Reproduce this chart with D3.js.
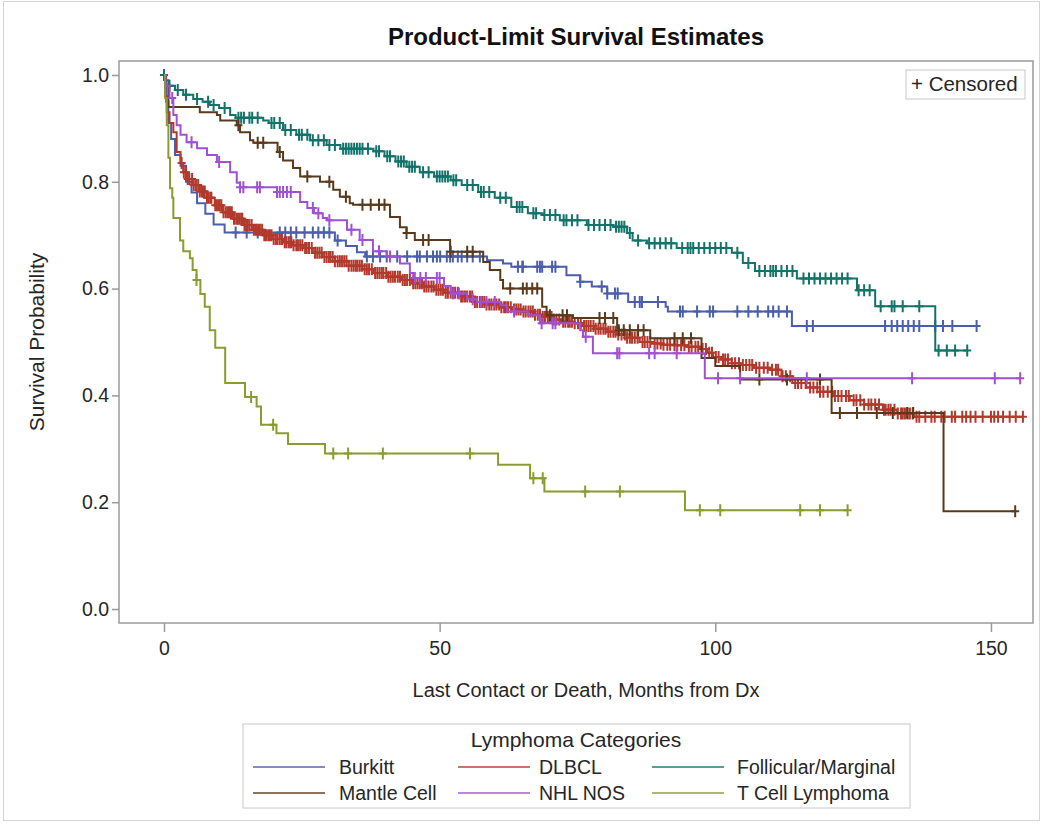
<!DOCTYPE html>
<html>
<head>
<meta charset="utf-8">
<script src="https://cdn.jsdelivr.net/npm/d3@7"></script>
<style>
  body { margin: 0; background: #fff; font-family: "Liberation Sans", Arial, sans-serif; }
  svg text { font-family: "Liberation Sans", Arial, sans-serif; }
</style>
</head>
<body>
<svg id="chart" width="1043" height="824"></svg>
<script>
// Kaplan-Meier steps: [months, survival]
const burkittSteps = [[0,1],[0.4,0.95],[0.8,0.91],[1.3,0.88],[2,0.85],[3,0.83],[4,0.8],[5,0.78],[6,0.76],[7.5,0.74],[9,0.72],[11,0.705],[31,0.69],[33,0.68],[35,0.668],[36.5,0.66],[58.6,0.653],[61.5,0.647],[63,0.641],[73,0.625],[75.5,0.613],[77.6,0.604],[80.4,0.591],[84.2,0.575],[91,0.566],[91.4,0.557],[113.9,0.53]];
const burkittEnd = 147.4;
const burkittCens = [13,15,17,21,22,23,24,25.5,27,28,29,30,31.5,36.8,37.9,39.2,40.4,42.3,44.1,45.9,46.4,47.7,48.8,49.5,50.1,51.3,51.9,52.4,53.3,54,55,56,57.3,64.2,65,65.1,67.7,68.2,68.6,70.4,71,75.5,79.4,80.4,81.8,82.3,85.4,86.3,86.7,89.6,93.6,94.1,96.7,99,99.6,104,106,107.7,109.6,110.5,111.5,113,116.6,117.7,130.8,132,133,134,135,136,137,139.9,141.3,143,147.4];

const dlbclSteps = [[0,1],[0.2,0.96],[0.5,0.93],[1,0.91],[1.7,0.893],[2.3,0.856],[3,0.835],[3.5,0.818],[4.3,0.805],[5.3,0.794],[6.5,0.782],[7.8,0.77],[9.2,0.756],[10.7,0.743],[12.5,0.731],[14.4,0.719],[16,0.71],[18,0.7],[19.8,0.693],[21.6,0.687],[23.4,0.681],[25.2,0.676],[27,0.667],[28.8,0.659],[31,0.651],[33.5,0.643],[36,0.636],[38,0.629],[40.5,0.622],[43,0.616],[45,0.61],[47,0.604],[49,0.598],[51,0.592],[53.5,0.585],[56,0.575],[58.5,0.57],[61,0.565],[63,0.561],[65,0.557],[67,0.551],[68.5,0.547],[70.5,0.542],[72,0.538],[74.2,0.535],[76,0.53],[78,0.525],[80.4,0.519],[82,0.514],[84,0.508],[86.3,0.5],[88.5,0.497],[90.5,0.495],[92.3,0.494],[95,0.491],[97.2,0.487],[98.5,0.48],[99.6,0.472],[101,0.467],[103,0.46],[104.5,0.457],[107,0.452],[110,0.448],[112,0.436],[114,0.423],[116.5,0.415],[119,0.407],[121.5,0.399],[124.4,0.391],[127,0.383],[130.4,0.373],[133,0.366],[136,0.36]];
const dlbclEnd = 155.8;
const dlbclCens = [3.2,4,4.6,5.1,5.8,6.2,6.9,7.4,8.1,8.6,9.3,9.9,10.4,11.2,11.8,12.3,13.1,13.7,14.2,14.9,15.5,16.3,16.8,17.4,18.2,18.9,19.5,20.3,21,21.9,22.6,23.1,24,24.7,25.6,26.3,27.4,28.2,29.1,29.9,30.6,31.5,32.3,33.1,34,34.8,35.5,36.4,37.2,38.3,39.1,39.8,40.7,41.5,42.4,43.3,44.1,45.2,46,46.8,47.6,48.5,49.4,50.2,51.1,52,52.8,53.9,54.6,55.5,56.4,57.3,58.1,59,59.9,60.8,61.7,62.4,63.5,64.3,65.2,66.1,66.9,67.8,68.7,69.6,70.3,71.2,72.4,73.3,74,75.1,76.2,77,77.9,78.8,79.7,80.6,81.5,82.4,83.6,84.5,85.4,86.8,87.7,89,90.1,91.3,92.6,93.8,95.2,96.4,97.7,98.9,100.1,101.4,102.3,103.6,105,106.2,107.4,108.8,110.3,111.4,112.8,114.5,115.6,117.2,118.5,119.6,121.2,122.3,123.7,125.1,126.3,127.8,129,130.6,131.4,132.5,133.7,134.4,135.3,136.5,138.1,139.2,141.6,142.9,144.8,145.5,147.2,150,151.3,153.4,155.8];
const dlbclCensMore = [3.6,4.3,5.4,6.5,7.1,7.8,8.4,9.6,10.1,10.8,11.5,12,12.7,13.4,14,14.6,15.2,15.9,16.6,17.1,17.8,18.5,19.2,19.9,20.6,21.4,22.2,22.9,23.5,24.3,25.1,25.9,26.8,27.8,28.6,29.5,30.2,31,31.9,32.7,33.5,34.4,35.1,35.9,36.8,37.7,38.7,39.5,40.3,41.1,41.9,42.8,43.7,44.6,45.6,46.4,47.2,48,48.9,49.8,50.6,51.5,52.4,53.3,54.2,55,55.9,56.8,57.7,58.5,59.4,60.3,61.2,62,62.9,63.9,64.7,65.6,66.5,67.3,68.2,69.1,69.9,70.7,71.7,72.8,73.6,74.5,75.6,76.6,77.4,78.3,79.2,80.1,81,81.9,83,84,84.9,85.9,87.2,88.2,89.5,90.6,91.8,93.1,94.4,95.7,96.9,98.3,99.4,100.6,101.8,103,104.3,105.6,106.7,108,109.5,111,112.2,113.6,115,116.4,117.8,119,120.4,121.7,122.9,124.2,125.6,127,128.3,129.7,130.9,131.8,133.1,134,134.9,135.8,137,139.8,141,143.5,146.3,148.5,150.6,152.2,154.5];

const follSteps = [[0,1],[0.3,0.99],[0.8,0.98],[2,0.972],[3.5,0.963],[5.3,0.955],[7,0.95],[8.3,0.944],[10,0.938],[12,0.925],[13,0.92],[18,0.915],[19,0.91],[21.6,0.897],[24,0.888],[26.5,0.878],[29.5,0.869],[32,0.862],[38,0.857],[40,0.848],[42,0.838],[44,0.828],[46.4,0.818],[49,0.81],[52,0.803],[54,0.794],[57,0.781],[60,0.77],[63,0.753],[66,0.741],[68.7,0.738],[71.8,0.728],[76.7,0.719],[81.5,0.716],[84,0.704],[85,0.69],[87.6,0.685],[93,0.676],[103,0.667],[105,0.648],[107.2,0.633],[114.8,0.619],[125.7,0.597],[129,0.567],[139.9,0.484]];
const follEnd = 145.7;
const follCens = [0,1,2.5,4,6,8,9,11,13.5,14,14.5,15.5,16,17,19.5,20,21,22,23,24.5,25,26,27,28,29,30,31,32.5,33,33.5,34,34.5,35,35.5,36,37,38.5,39,40.5,41,42.5,43,43.5,44.5,45,45.5,47,48,49.5,50,50.5,51,51.5,52.5,53,55,56,57.5,58,59,61,62,64,64.5,65,67,67.5,69,70,71,72.5,73,74,75,77,78,79,80,81,82,82.5,83,83.5,84.5,86,88,89,90,91,92,94,95,95.5,96,97,98,99,100,101,102,104,106,108,109,110,110.5,111,112,113,114,116,117,118,119,120,121,122,123,124,126,127,128,130,132,132.5,134,137,140.5,142,143.5,145.7];

const mantleSteps = [[0,1],[0.3,0.98],[0.8,0.94],[6.5,0.93],[9.6,0.925],[10.2,0.915],[13.2,0.906],[13.8,0.893],[15.6,0.878],[16.2,0.873],[20.6,0.856],[21.6,0.84],[23.4,0.826],[24.7,0.81],[28.3,0.8],[30.7,0.785],[31.9,0.772],[33.7,0.76],[34.3,0.757],[41,0.734],[42.8,0.715],[44,0.704],[45.5,0.691],[51.9,0.669],[57.9,0.65],[59.1,0.635],[61,0.616],[61.5,0.6],[68.6,0.566],[69.4,0.55],[74.2,0.545],[82.2,0.526],[82.5,0.522],[88.2,0.507],[97.5,0.47],[100,0.455],[104.5,0.43],[121.1,0.367],[141.4,0.183]];
const mantleEnd = 154.4;
const mantleCens = [13.5,17,18,21,26,30,33,36,37.5,39,40,44,47,48,52,55,56,62.8,65.1,65.8,66.8,67.7,70,72.3,73.1,79,80,81.5,82.5,83.4,84.5,86,87,92.6,94.1,95.6,108,113,119,122.6,125.7,129.3,132.2,134.8,135.9,154.4];

const nhlSteps = [[0,1],[0.3,0.98],[1,0.957],[1.7,0.925],[2.3,0.906],[3,0.888],[4.1,0.874],[6,0.863],[7.8,0.85],[9.6,0.837],[12,0.818],[13.2,0.798],[13.8,0.79],[20.5,0.781],[24.7,0.762],[26,0.751],[27.2,0.741],[28.8,0.732],[29.6,0.728],[33.2,0.71],[35.5,0.691],[37.9,0.67],[40.4,0.66],[42.8,0.647],[44.6,0.629],[45.2,0.62],[50.8,0.605],[52,0.591],[55,0.58],[56.8,0.575],[61,0.569],[62.2,0.557],[66,0.55],[68.2,0.535],[75.5,0.522],[76,0.51],[77.8,0.479],[98.1,0.432]];
const nhlEnd = 155.3;
const nhlCens = [1.5,5,10,13.8,14.4,16.9,17.4,20.5,21,21.6,22.3,23,27,28,30,34,36,39,41,45.5,46.5,47.5,49.5,50,52.5,53.5,56,57.5,58.5,60,63.5,68.5,70.5,71,76.5,82.2,82.6,88,89,93,100.5,104.5,116.6,135.7,150.7,155.3];

const tcellSteps = [[0,1],[0.2,0.957],[0.5,0.906],[0.8,0.845],[1.1,0.788],[1.5,0.77],[1.7,0.732],[2.9,0.69],[3.5,0.67],[4.7,0.657],[5.2,0.635],[5.9,0.616],[6.6,0.59],[7.4,0.566],[8.3,0.522],[9.3,0.489],[11.1,0.423],[14.7,0.397],[16.8,0.379],[17.6,0.345],[20.4,0.329],[22.5,0.309],[29.2,0.291],[60.6,0.27],[66.4,0.245],[69,0.22],[94.5,0.185]];
const tcellEnd = 124;
const tcellCens = [5.9,15.8,19.8,30.7,33.4,39.7,55.5,67,68.7,76.4,82.7,97.2,100.9,115.4,119,124];

const groupNames = ["Burkitt", "DLBCL", "Follicular/Marginal", "Mantle Cell", "NHL NOS", "T Cell Lymphoma"];
const groupColors = ["#4a5eab", "#b3392d", "#12736a", "#5a3a1c", "#a150d6", "#8a9c2e"];
const xTicks = [0, 50, 100, 150];
const yTicks = [0, 0.2, 0.4, 0.6, 0.8, 1.0];

const groups = [
  { steps: burkittSteps, end: burkittEnd, cens: burkittCens },
  { steps: dlbclSteps, end: dlbclEnd, cens: dlbclCens.concat(dlbclCensMore) },
  { steps: follSteps, end: follEnd, cens: follCens },
  { steps: mantleSteps, end: mantleEnd, cens: mantleCens },
  { steps: nhlSteps, end: nhlEnd, cens: nhlCens },
  { steps: tcellSteps, end: tcellEnd, cens: tcellCens }
];

const W = 1043, H = 824;
const plot = { left: 119, right: 1033, top: 61, bottom: 623 };
const textColor = "#262626";

const svg = d3.select("#chart");

// light outer frame of the graph
svg.append("rect")
  .attr("x", 3.5).attr("y", 1.5).attr("width", W - 7).attr("height", H - 5)
  .attr("fill", "none").attr("stroke", "#d4d4d4");

const x = d3.scaleLinear().domain([-8.16, 157.63]).range([plot.left, plot.right]);
const y = d3.scaleLinear().domain([-0.0262, 1.0262]).range([plot.bottom, plot.top]);

// title
svg.append("text")
  .attr("x", (plot.left + plot.right) / 2).attr("y", 45)
  .attr("text-anchor", "middle")
  .attr("font-size", 24).attr("font-weight", "bold").attr("fill", "#111")
  .text("Product-Limit Survival Estimates");

// axes
const axisColor = "#9a9a9a";
const xAxis = svg.append("g")
  .attr("transform", `translate(0,${plot.bottom})`)
  .call(d3.axisBottom(x).tickValues(xTicks).tickSize(9).tickPadding(9).tickFormat(d3.format("d")));
const yAxis = svg.append("g")
  .attr("transform", `translate(${plot.left},0)`)
  .call(d3.axisLeft(y).tickValues(yTicks).tickSize(7).tickPadding(3).tickFormat(d3.format(".1f")));
[xAxis, yAxis].forEach(g => {
  g.select(".domain").remove();
  g.selectAll(".tick line").attr("stroke", axisColor).attr("stroke-width", 1.5);
  g.selectAll(".tick text").attr("font-size", 19.5).attr("fill", textColor)
    .attr("font-family", "'Liberation Sans', Arial, sans-serif");
});

svg.append("rect")
  .attr("x", plot.left).attr("y", plot.top)
  .attr("width", plot.right - plot.left).attr("height", plot.bottom - plot.top)
  .attr("fill", "none").attr("stroke", axisColor).attr("stroke-width", 1.5);

svg.append("text")
  .attr("x", (plot.left + plot.right) / 2 + 10).attr("y", 697)
  .attr("text-anchor", "middle").attr("font-size", 20).attr("fill", textColor)
  .text("Last Contact or Death, Months from Dx");

svg.append("text")
  .attr("transform", `translate(44,${(plot.top + plot.bottom) / 2}) rotate(-90)`)
  .attr("text-anchor", "middle").attr("font-size", 21).attr("fill", textColor)
  .text("Survival Probability");

// curves
const line = d3.line()
  .x(d => x(d[0])).y(d => y(d[1]))
  .curve(d3.curveStepAfter);

function survAt(steps, t) {
  let v = steps[0][1];
  for (const s of steps) { if (s[0] <= t) v = s[1]; else break; }
  return v;
}

const curveLayer = svg.append("g");
groups.forEach((g, i) => {
  const pts = g.steps.concat([[g.end, g.steps[g.steps.length - 1][1]]]);
  curveLayer.append("path")
    .attr("d", line(pts))
    .attr("fill", "none")
    .attr("stroke", groupColors[i])
    .attr("stroke-width", 2);

  curveLayer.append("g").selectAll("path")
    .data(g.cens)
    .join("path")
    .attr("transform", t => `translate(${x(t)},${y(survAt(g.steps, t))})`)
    .attr("d", "M-4,0H4M0,-6V6")
    .attr("stroke", groupColors[i])
    .attr("stroke-width", 2)
    .attr("fill", "none");
});

// censored inset legend
const cens = svg.append("g").attr("transform", "translate(906,70)");
cens.append("rect").attr("width", 119).attr("height", 29)
  .attr("fill", "#fff").attr("stroke", "#c8c8c8");
cens.append("text").attr("x", 5).attr("y", 21)
  .attr("font-size", 20.5).attr("fill", textColor)
  .text("+ Censored");

// group legend
const leg = svg.append("g");
leg.append("rect")
  .attr("x", 243).attr("y", 724).attr("width", 667).attr("height", 84)
  .attr("fill", "#fff").attr("stroke", "#c8c8c8");
leg.append("text")
  .attr("x", 576).attr("y", 747).attr("text-anchor", "middle")
  .attr("font-size", 21).attr("fill", textColor)
  .text("Lymphoma Categories");

const colLine = [253, 458, 652];
const colText = [339, 539, 737];
const rowY = [767, 793];
groupNames.forEach((name, i) => {
  const c = i % 3, r = Math.floor(i / 3);
  leg.append("line")
    .attr("x1", colLine[c]).attr("x2", colLine[c] + 72)
    .attr("y1", rowY[r]).attr("y2", rowY[r])
    .attr("stroke", groupColors[i]).attr("stroke-width", 2).attr("stroke-opacity", 0.7);
  leg.append("text")
    .attr("x", colText[c]).attr("y", rowY[r] + 7)
    .attr("font-size", 19.5).attr("fill", textColor)
    .text(name);
});
</script>
</body>
</html>
